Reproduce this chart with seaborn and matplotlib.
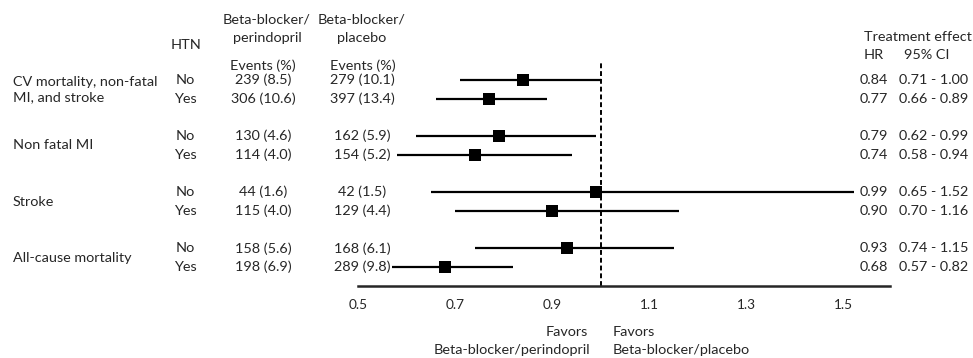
import matplotlib
matplotlib.use("Agg")
import numpy as np
import pandas as pd
import seaborn as sns
import matplotlib.pyplot as plt
from matplotlib import transforms

# data
outcomes = ["CV mortality, non-fatal\nMI, and stroke", "Non fatal MI", "Stroke", "All-cause mortality"]
htn = ["No", "Yes", "No", "Yes", "No", "Yes", "No", "Yes"]
peri_events = ["239 (8.5)", "306 (10.6)", "130 (4.6)", "114 (4.0)",
               "44 (1.6)", "115 (4.0)", "158 (5.6)", "198 (6.9)"]
placebo_events = ["279 (10.1)", "397 (13.4)", "162 (5.9)", "154 (5.2)",
                  "42 (1.5)", "129 (4.4)", "168 (6.1)", "289 (9.8)"]
hr = [0.84, 0.77, 0.79, 0.74, 0.99, 0.90, 0.93, 0.68]
ci_low = [0.71, 0.66, 0.62, 0.58, 0.65, 0.70, 0.74, 0.57]
ci_high = [1.00, 0.89, 0.99, 0.94, 1.52, 1.16, 1.15, 0.82]
xticks = [0.5, 0.7, 0.9, 1.1, 1.3, 1.5]

W, H = 973, 358
FS = 10.4

sns.set_style("white")
plt.rcParams["font.family"] = ["Lato", "DejaVu Sans"]

# row positions: two rows per outcome, gap between groups
rows = [g * 3 + s for g in range(len(outcomes)) for s in range(2)]
df = pd.DataFrame({"row": rows, "hr": hr, "lo": ci_low, "hi": ci_high})

fig = plt.figure(figsize=(W / 100, H / 100), dpi=100)
ax_left, ax_right = 358 / W, 890 / W
ax_top, ax_bot = 61.3 / H, 285.7 / H
ax = fig.add_axes([ax_left, 1 - ax_bot, ax_right - ax_left, ax_bot - ax_top])

ax.hlines(df["row"], df["lo"], df["hi"], color="black", linewidth=1.6, zorder=2)
sns.scatterplot(data=df, x="hr", y="row", marker="s", s=72, color="black",
                edgecolor="black", linewidth=0, ax=ax, zorder=3, legend=False)
ax.axvline(1.0, color="black", linestyle=(0, (2.5, 1.5)), linewidth=1.4, zorder=1)

ax.set_xlim(0.5, 1.595)
ax.set_ylim(11, -1)
ax.set_xticks(xticks)
ax.set_xticklabels([f"{t:.1f}" for t in xticks], fontsize=FS - 0.6)
ax.set_yticks([])
ax.set_xlabel("")
ax.set_ylabel("")
for side in ["top", "right", "left"]:
    ax.spines[side].set_visible(False)
ax.spines["bottom"].set_linewidth(1.8)
ax.spines["bottom"].set_bounds(0.5, 1.595)
ax.tick_params(axis="x", direction="out", length=3.5, width=1.8, pad=6)
ax.patch.set_alpha(0)

# text columns: x in figure pixels, y in data rows
tr = transforms.blended_transform_factory(fig.transFigure, ax.transData)


def fx(px):
    return px / W


def fy(py):
    return 1 - py / H


for g, name in enumerate(outcomes):
    ax.text(fx(13), g * 3 + 0.5, name, transform=tr, ha="left", va="center",
            fontsize=FS, linespacing=1.32)

for r, h, pe, pl, v, l, u in zip(rows, htn, peri_events, placebo_events, hr, ci_low, ci_high):
    ax.text(fx(185), r, h, transform=tr, ha="center", va="center", fontsize=FS)
    ax.text(fx(263), r, pe, transform=tr, ha="center", va="center", fontsize=FS)
    ax.text(fx(362), r, pl, transform=tr, ha="center", va="center", fontsize=FS)
    ax.text(fx(874), r, f"{v:.2f}", transform=tr, ha="center", va="center", fontsize=FS)
    ax.text(fx(934), r, f"{l:.2f} - {u:.2f}", transform=tr, ha="center", va="center", fontsize=FS)

# column headers
fig.text(fx(186), fy(45), "HTN", ha="center", va="center", fontsize=FS)
fig.text(fx(267), fy(19), "Beta-blocker/", ha="center", va="center", fontsize=FS)
fig.text(fx(267), fy(38), "perindopril", ha="center", va="center", fontsize=FS)
fig.text(fx(362), fy(19), "Beta-blocker/", ha="center", va="center", fontsize=FS)
fig.text(fx(362), fy(38), "placebo", ha="center", va="center", fontsize=FS)
fig.text(fx(263), fy(66), "Events (%)", ha="center", va="center", fontsize=FS)
fig.text(fx(363), fy(66), "Events (%)", ha="center", va="center", fontsize=FS)
fig.text(fx(918), fy(37), "Treatment effect", ha="center", va="center", fontsize=FS)
fig.text(fx(874), fy(55), "HR", ha="center", va="center", fontsize=FS)
fig.text(fx(927), fy(55), "95% CI", ha="center", va="center", fontsize=FS)

# favors labels under the axis
fig.text(fx(588), fy(332), "Favors", ha="right", va="center", fontsize=FS)
fig.text(fx(590), fy(350), "Beta-blocker/perindopril", ha="right", va="center", fontsize=FS)
fig.text(fx(613), fy(332), "Favors", ha="left", va="center", fontsize=FS)
fig.text(fx(613), fy(350), "Beta-blocker/placebo", ha="left", va="center", fontsize=FS)

fig.savefig("out.png", dpi=100, facecolor="white")
